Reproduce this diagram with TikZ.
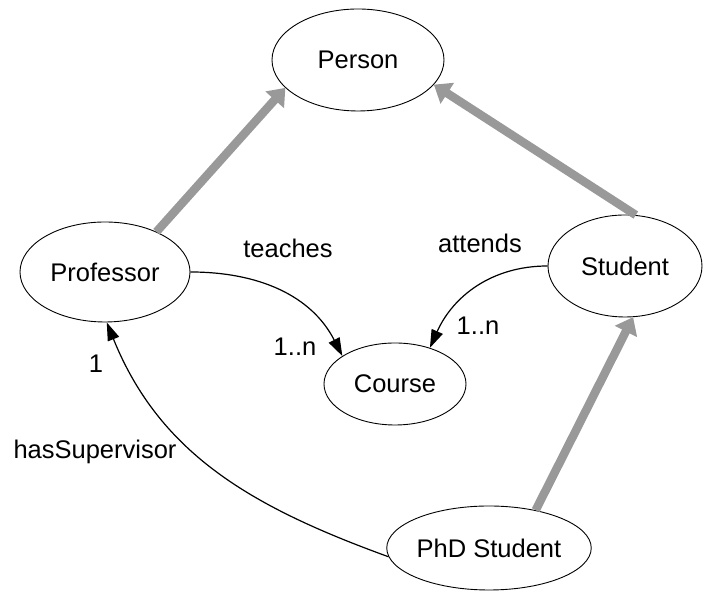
\documentclass[tikz,border=0pt]{standalone}
\usepackage{fontspec}
\setmainfont{Liberation Sans}
\usetikzlibrary{shapes.geometric,arrows.meta}
\definecolor{isagrey}{HTML}{999999}
\begin{document}
\begin{tikzpicture}[x=1pt,y=1pt,
  every node/.style={font=\fontsize{25.5}{30}\selectfont},
  cls/.style={ellipse,draw,line width=0.9pt,inner sep=0pt},
  isa/.style={draw=isagrey,line width=8.5pt,-{Triangle[length=16pt,width=24pt]},isagrey},
  rel/.style={draw,line width=1.2pt,-{Triangle[length=18pt,width=12pt]}},
  lbl/.style={anchor=base,inner sep=0pt}]
\useasboundingbox (0,0) rectangle (710,604);
\node[cls,minimum width=172pt,minimum height=102pt] (person) at (358,544) {Person};
\node[cls,minimum width=170pt,minimum height=100pt] (prof) at (105,332) {Professor};
\node[cls,minimum width=154pt,minimum height=102pt] (stud) at (625,338) {Student};
\node[cls,minimum width=142pt,minimum height=82pt] (course) at (395,220) {Course};
\node[cls,minimum width=172pt,minimum height=84pt] (phd) at (489,56) {PhD Student};
\draw[isa] (prof.38) -- (person.201);
\draw[isa] (stud.78) -- (person.-18);
\draw[isa] (phd.39) -- (stud.-81);
\draw[rel] (prof.east) to[out=0,in=117] (course.152);
\draw[rel] (stud.west) to[out=180,in=66] (course.46);
\draw[rel] (phd.185) to[out=160,in=-68] (prof.272);
\node[lbl] (lteach) at (288,346) {teaches};
\node[lbl] (latt) at (480,351) {attends};
\node[lbl] (ln1) at (295,248) {1..n};
\node[lbl] (ln2) at (478,269) {1..n};
\node[lbl] (lone) at (96,231) {1};
\node[lbl] (lsup) at (95,145) {hasSupervisor};
\end{tikzpicture}
\end{document}
